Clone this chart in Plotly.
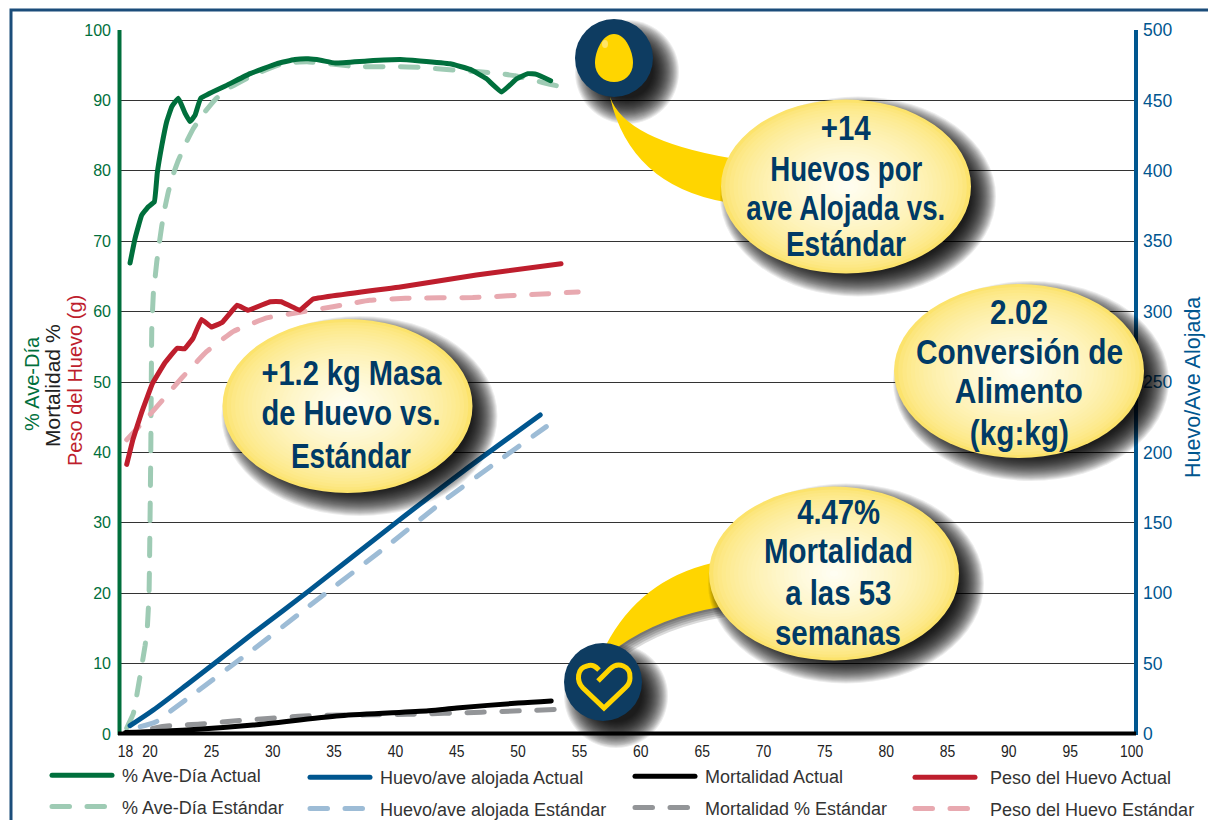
import json
import plotly.graph_objects as go

# ---------- data ----------
week_ticks = [18, 20, 25, 30, 35, 40, 45, 50, 55, 60, 65, 70, 75, 80, 85, 90, 95, 100]
left_ticks = [0, 10, 20, 30, 40, 50, 60, 70, 80, 90, 100]
right_ticks = [0, 50, 100, 150, 200, 250, 300, 350, 400, 450, 500]

lay_actual_x = [18.37, 18.78, 19.32, 19.86, 20.35, 20.59, 20.95, 21.36, 21.77, 22.31, 22.85, 23.26, 23.67, 24.13, 26.2, 28.15, 30.3, 31.8, 32.9, 33.9, 35.1, 37.7, 40.4, 42, 44.45, 46.1, 47.4, 48.66, 49.9, 50.8, 51.5, 52.65]
lay_actual_y = [66.9, 70.4, 73.7, 74.9, 75.6, 79.7, 83.5, 87.0, 89.1, 90.3, 88.2, 87.0, 87.9, 90.3, 92.1, 93.8, 95.2, 95.8, 95.9, 95.7, 95.3, 95.6, 95.8, 95.6, 95.2, 94.4, 93.1, 91.2, 93.1, 93.8, 93.7, 92.8]
lay_std_x = [18.1, 18.64, 18.9, 19.6, 19.78, 19.92, 20.06, 20.14, 20.27, 20.41, 20.55, 20.76, 20.95, 21.17, 21.49, 21.85, 22.31, 22.91, 23.53, 24.34, 25.3, 26.38, 28.4, 30.9, 32.8, 36.8, 40, 42, 44.86, 46.6, 48.5, 49.75, 51.4, 52.6, 54.1]
lay_std_y = [0.85, 2.9, 5.3, 12.6, 15.2, 20.0, 39.9, 57.4, 62.6, 64.8, 67.1, 69.8, 72.1, 74.4, 77.0, 79.3, 81.5, 83.9, 86.0, 88.1, 90.1, 91.7, 93.6, 95.3, 95.5, 94.8, 94.8, 94.7, 94.3, 94.1, 93.8, 93.5, 92.8, 92.3, 91.7]

eggs_actual_x = [18.37, 20.27, 23, 28.4, 33, 40.1, 45.5, 51.8]
eggs_actual_y = [5.9, 17, 35, 71.5, 102, 150.5, 186.5, 226.6]
eggs_std_x = [19.2, 20.5, 21.6, 23.8, 28.4, 32.9, 39.6, 44, 48.5, 52.3]
eggs_std_y = [5.2, 8.7, 15.8, 30, 60, 90.4, 135.4, 166, 194.6, 218.3]

mort_actual_x = [18, 23, 28.4, 35.5, 42.7, 45, 50, 52.7]
mort_actual_y = [0.2, 0.57, 1.28, 2.6, 3.3, 3.7, 4.4, 4.7]
mort_std_x = [20.2, 21.2, 24.1, 26.8, 29.6, 32.5, 34.4, 41, 47, 53.2]
mort_std_y = [0.8, 1.1, 1.42, 1.85, 2.2, 2.56, 2.65, 2.8, 3.1, 3.5]

weight_actual_x = [18.1, 18.6, 19.3, 20.2, 21.2, 22.2, 22.8, 23.5, 24.2, 25, 25.9, 27.1, 28, 29.8, 30.7, 32.2, 33.3, 40.4, 46.6, 53.5]
weight_actual_y = [38.3, 41.8, 45.6, 49.8, 52.7, 54.8, 54.7, 56.2, 58.9, 57.8, 58.5, 60.9, 60.2, 61.4, 61.4, 60.2, 61.8, 63.5, 65.2, 66.8]
weight_std_x = [18.1, 19.8, 22.6, 24.6, 26.8, 29.5, 32.2, 34.9, 37.9, 40.8, 46.3, 52, 54.9]
weight_std_y = [41.8, 45, 50.6, 54.3, 57.2, 59.1, 59.9, 60.7, 61.6, 61.9, 62, 62.5, 62.8]

callouts = {
    "eggs": ["+14", "Huevos por", "ave Alojada vs.", "Estándar"],
    "fcr": ["2.02", "Conversión de", "Alimento", "(kg:kg)"],
    "mass": ["+1.2 kg Masa", "de Huevo vs.", "Estándar"],
    "mort": ["4.47%", "Mortalidad", "a las 53", "semanas"],
}

# ---------- style / layout ----------
W, H = 1208, 820
L, R, T, B = 119, 1135, 30, 734
GREEN, LGREEN = "#006f3c", "#9ecbb4"
BLUE, LBLUE = "#00568f", "#9dbcd6"
BLACK, GRAY = "#000000", "#939598"
RED, PINK = "#be1e2d", "#e8a9b0"
NAVY = "#0e3c61"
GOLD = "#ffd500"
TXT = "#003a66"
SANS = "Liberation Sans"
# drawn width of each callout line, in pixels (the original face is condensed)
text_widths = {
    "+14": 50, "Huevos por": 152, "ave Alojada vs.": 199, "Estándar": 120,
    "2.02": 58, "Conversión de": 207, "Alimento": 128, "(kg:kg)": 99,
    "+1.2 kg Masa": 180, "de Huevo vs.": 179,
    "4.47%": 83, "Mortalidad": 149, "a las 53": 106, "semanas": 126,
}


def px(x):
    return (x - L) / (R - L)


def py(y):
    return (B - y) / (B - T)


def path(cmds, dx=0, dy=0):
    out = []
    for c in cmds:
        if isinstance(c, str):
            out.append(c)
        else:
            out.append(f"{px(c[0] + dx):.5f},{py(c[1] + dy):.5f}")
    return " ".join(out)


shapes = []


def ell(cx, cy, rx, ry, color, opacity=1.0):
    shapes.append(dict(type="circle", xref="paper", yref="paper", layer="above",
                       x0=px(cx - rx), x1=px(cx + rx), y0=py(cy + ry), y1=py(cy - ry),
                       fillcolor=color, opacity=opacity, line=dict(width=0)))


def shadow(cx, cy, rx, ry, dx, dy, spread=13, n=26, alpha=0.075):
    for i in range(n):
        d = spread - 2 * spread * i / (n - 1)
        ell(cx + dx, cy + dy, rx + d, ry + d, "#000000", alpha)


def mix(a, b, t):
    ca = [int(a[i:i + 2], 16) for i in (1, 3, 5)]
    cb = [int(b[i:i + 2], 16) for i in (1, 3, 5)]
    return "#%02x%02x%02x" % tuple(round(p + (q - p) * t) for p, q in zip(ca, cb))


def bubble(cx, cy, rx=125, ry=87):
    shadow(cx, cy, rx, ry, 12, 10)
    n = 30
    for i in range(n):
        f = 1 - i / n
        t = (i / (n - 1)) ** 0.62
        ell(cx, cy, rx * f, ry * f, mix("#fce36c", "#fffef2", t))


def fill_path(cmds, color, opacity=1.0, dx=0, dy=0):
    shapes.append(dict(type="path", xref="paper", yref="paper", layer="above",
                       path=path(cmds, dx, dy), fillcolor=color, opacity=opacity, line=dict(width=0)))


def rule(x0, y0, x1, y1, color, width):
    shapes.append(dict(type="line", xref="paper", yref="paper", layer="above",
                       x0=px(x0), y0=py(y0), x1=px(x1), y1=py(y1), line=dict(color=color, width=width)))


# page frame and axis rules
shapes.append(dict(type="path", xref="paper", yref="paper", layer="above",
                   path=path(["M", (11, 820), "L", (11, 10), "L", (1208, 10)]),
                   line=dict(color="#1b4d7a", width=3)))
rule(119.5, 30, 119.5, 735, GREEN, 4)
rule(1136, 30, 1136, 735, BLUE, 4)
rule(118, 733.5, 1136, 733.5, BLACK, 4)

TAIL1 = ["M", (610, 97), "Q", (625, 140), (730, 158), "L", (725, 202), "Q", (630, 185), (610, 97), "Z"]
TAIL2 = ["M", (606, 645), "Q", (640, 580), (712, 563), "L", (720, 607), "Q", (660, 617), (618, 647), "Z"]

# shadows first, then tails, then icons
shadow(614, 58, 39, 39, 13, 14)
shadow(603, 682, 39, 39, 13, 14)
for k in range(2, 12, 2):
    fill_path(TAIL2, "#000000", 0.14, dx=k * 0.5, dy=k)
fill_path(TAIL1, GOLD)
fill_path(TAIL2, GOLD)

# icon: egg
ell(614, 58, 39, 39, NAVY)
fill_path(["M", (614, 34), "C", (626, 34), (633, 52), (633, 63), "C", (633, 75), (624, 82), (614, 82),
           "C", (604, 82), (595, 75), (595, 63), "C", (595, 52), (602, 34), (614, 34), "Z"], GOLD)
ell(605, 44, 3, 4, "#ffe566")

# icon: heart
ell(603, 682, 39, 39, NAVY)
shapes.append(dict(type="path", xref="paper", yref="paper", layer="above",
                   path=path(["M", (598, 681), "L", (610, 669), "C", (618, 661), (631, 666), (630, 678),
                              "C", (630, 684), (627, 686), (625, 688), "L", (604, 708), "L", (583, 688),
                              "C", (576, 681), (577, 668), (587, 666), "C", (593, 664), (596, 667), (599, 670)]),
                   line=dict(color=GOLD, width=5), fillcolor="rgba(0,0,0,0)"))

# bubbles
bubble(846, 186.5)
bubble(1019, 371)
bubble(347.5, 406)
bubble(834, 573.5)

annotations = []


def label(x, y, text, size, color, font=SANS, angle=0, bold=False, anchor="center"):
    annotations.append(dict(xref="paper", yref="paper", x=px(x), y=py(y), text=f"<b>{text}</b>" if bold else text,
                            showarrow=False, xanchor=anchor, yanchor="middle", textangle=angle,
                            font=dict(family=font, size=size, color=color)))


for key, cx, ys in [("eggs", 846, [128, 168, 207, 243]), ("fcr", 1019, [311, 351, 391, 432]),
                    ("mass", 351, [372, 413, 455]), ("mort", 838, [512, 550, 592, 632])]:
    for text, y in zip(callouts[key], ys):
        label(cx, y, text, 35, TXT, bold=True)

label(32, 384, "% Ave-Día", 20, GREEN, angle=-90)
label(53, 386, "Mortalidad %", 21, "#222222", angle=-90)
label(75, 381, "Peso del Huevo (g)", 20, RED, angle=-90)
label(1193, 388, "Huevo/Ave Alojada", 21.5, BLUE, angle=-90)

fig = go.Figure()


def line(name, x, y, color, dash=None, axis="y", leg="legend", rank=1, pad=1, smooth=0.3):
    fig.add_trace(go.Scatter(x=x, y=y, name="\u00a0" * pad + name, mode="lines", yaxis=axis, legend=leg,
                             legendgroup=name, legendrank=rank,
                             line=dict(color=color, width=5, dash=dash or "solid", shape="spline", smoothing=smooth),
                             hoverinfo="skip"))


DASH = "17.5px,17.5px"
line("% Ave-Día Estándar", lay_std_x, lay_std_y, LGREEN, DASH, leg="legend", rank=2)
line("Peso del Huevo Estándar", weight_std_x, weight_std_y, PINK, DASH, leg="legend4", rank=2, pad=2)
line("Huevo/ave alojada Estándar", eggs_std_x, eggs_std_y, LBLUE, DASH, axis="y2", leg="legend2", rank=2, smooth=0.8)
line("Mortalidad % Estándar", mort_std_x, mort_std_y, GRAY, DASH, leg="legend3", rank=2, smooth=0.8)
line("% Ave-Día Actual", lay_actual_x, lay_actual_y, GREEN, leg="legend")
line("Peso del Huevo Actual", weight_actual_x, weight_actual_y, RED, leg="legend4", pad=2, smooth=0.2)
line("Huevo/ave alojada Actual", eggs_actual_x, eggs_actual_y, BLUE, axis="y2", leg="legend2", smooth=0.8)
line("Mortalidad Actual", mort_actual_x, mort_actual_y, BLACK, leg="legend3", smooth=0.8)


def legend_at(x, y):
    return dict(x=px(x), y=py(y), xanchor="left", yanchor="top", bgcolor="rgba(0,0,0,0)",
                orientation="v", itemwidth=60, traceorder="grouped", tracegroupgap=5,
                font=dict(family=SANS, size=18, color="#333333"), itemclick=False, itemdoubleclick=False)


fig.update_layout(
    width=W, height=H, paper_bgcolor="white", plot_bgcolor="white", showlegend=True,
    margin=dict(l=L, r=W - R, t=T, b=H - B, autoexpand=False),
    xaxis=dict(range=[17.47, 100.28], tickvals=week_ticks, showgrid=False, zeroline=False, ticks="",
               showline=False, ticklabelstandoff=6,
               tickfont=dict(family=SANS, size=16, color="#222222")),
    yaxis=dict(range=[0, 100], tickvals=left_ticks, showgrid=True, gridcolor="#333333", gridwidth=1,
               zeroline=False, showline=False, ticks="", ticklabelstandoff=7,
               tickfont=dict(family=SANS, size=16, color=GREEN)),
    yaxis2=dict(range=[0, 500], tickvals=right_ticks, overlaying="y", side="right", showgrid=False,
                zeroline=False, showline=False, ticks="", ticklabelstandoff=7,
                tickfont=dict(family=SANS, size=17.5, color=BLUE)),
    legend=legend_at(47, 757),
    legend2=legend_at(305, 759),
    legend3=legend_at(630, 758),
    legend4=legend_at(910, 759),
    shapes=shapes, annotations=annotations,
)

post = """
document.body.style.margin='0';
var WIDTHS = %s;
function restyle(){
  document.querySelectorAll('.js-line').forEach(function(e){e.style.strokeLinecap='round';});
  document.querySelectorAll('.annotation-text').forEach(function(e){
    var w = WIDTHS[e.textContent];
    if(w){e.setAttribute('textLength', w); e.setAttribute('lengthAdjust','spacingAndGlyphs');}
  });
  document.querySelectorAll('.xtick text').forEach(function(e){
    if(!e.hasAttribute('textLength')){
      e.setAttribute('textLength', (e.getComputedTextLength()*0.87).toFixed(1));
      e.setAttribute('lengthAdjust','spacingAndGlyphs');
    }
  });
}
restyle();
var gd=document.getElementById('{plot_id}');
if(gd&&gd.on){gd.on('plotly_afterplot',restyle);}
""" % json.dumps(text_widths, ensure_ascii=False)

fig.write_html("out.html", post_script=post, config=dict(displayModeBar=False))
